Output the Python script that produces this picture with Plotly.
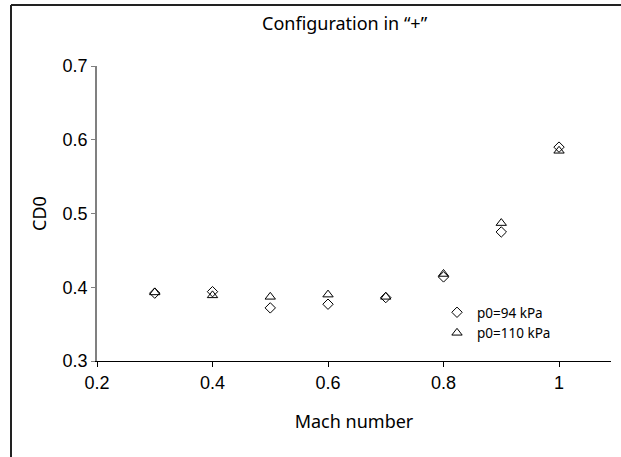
import plotly.graph_objects as go

# Zero-lift drag coefficient vs Mach number, "+" configuration
mach = [0.3, 0.4, 0.5, 0.6, 0.7, 0.8, 0.9, 1.0]
cd0_p94 = [0.392, 0.394, 0.372, 0.377, 0.386, 0.414, 0.475, 0.590]
cd0_p110 = [0.393, 0.389, 0.387, 0.390, 0.387, 0.418, 0.487, 0.585]

series_names = ["p0=94 kPa", "p0=110 kPa"]
x_ticks = [0.2, 0.4, 0.6, 0.8, 1.0]
x_tick_text = ["0.2", "0.4", "0.6", "0.8", "1"]
y_ticks = [0.3, 0.4, 0.5, 0.6, 0.7]

W, H = 621, 457
L, R, T, B = 97, 10, 66, 96
plot_w, plot_h = W - L - R, H - T - B


def px_x(px):
    return (px - L) / plot_w


def px_y(py):
    return (H - B - py) / plot_h


label_font = "Noto Sans"
tick_font = "Liberation Sans, Arial"

fig = go.Figure()
fig.add_trace(go.Scatter(
    x=mach, y=cd0_p94, mode="markers", name=series_names[0],
    marker=dict(symbol="diamond-open", size=8, color="black",
                line=dict(width=1, color="black")),
))
fig.add_trace(go.Scatter(
    x=mach, y=cd0_p110, mode="markers", name=series_names[1],
    marker=dict(symbol="triangle-up-open", size=9, color="black",
                line=dict(width=1, color="black")),
))

fig.update_layout(
    width=W, height=H,
    margin=dict(l=L, r=R, t=T, b=B, pad=0),
    paper_bgcolor="white", plot_bgcolor="white",
    showlegend=True,
    legend=dict(
        x=px_x(437), y=px_y(297), xanchor="left", yanchor="top",
        font=dict(family=label_font, size=13.5, color="black"),
        bgcolor="rgba(0,0,0,0)", itemwidth=30, tracegroupgap=0,
    ),
    xaxis=dict(
        range=[0.2, 1.09], tickvals=x_ticks, ticktext=x_tick_text,
        showgrid=False, zeroline=False,
        showline=True, linecolor="black", linewidth=1,
        ticks="outside", ticklen=5, tickcolor="black", tickwidth=1,
        tickfont=dict(family=tick_font, size=18, color="black"),
        title=dict(text="Mach number",
                   font=dict(family=label_font, size=18, color="black"),
                   standoff=23),
    ),
    yaxis=dict(
        range=[0.3, 0.7], tickvals=y_ticks, tickformat=".1f",
        showgrid=False, zeroline=False,
        showline=True, linecolor="#808080", linewidth=1.5,
        ticks="outside", ticklen=4, tickcolor="#808080", tickwidth=1,
        tickfont=dict(family=tick_font, size=18, color="black"),
        title=dict(text="CD0",
                   font=dict(family=label_font, size=18, color="black"),
                   standoff=11),
    ),
    annotations=[dict(
        text="Configuration in “+”", showarrow=False,
        xref="paper", yref="paper", x=px_x(345), y=px_y(23),
        xanchor="center", yanchor="middle",
        font=dict(family=label_font, size=18, color="black"),
    )],
    shapes=[
        # outer frame: top and left edges
        dict(type="line", xref="paper", yref="paper",
             x0=px_x(11), x1=px_x(W + 2), y0=px_y(5), y1=px_y(5),
             line=dict(color="#222222", width=2)),
        dict(type="line", xref="paper", yref="paper",
             x0=px_x(11), x1=px_x(11), y0=px_y(5), y1=px_y(H + 2),
             line=dict(color="#222222", width=2)),
    ],
)

fig.write_html("out.html")
